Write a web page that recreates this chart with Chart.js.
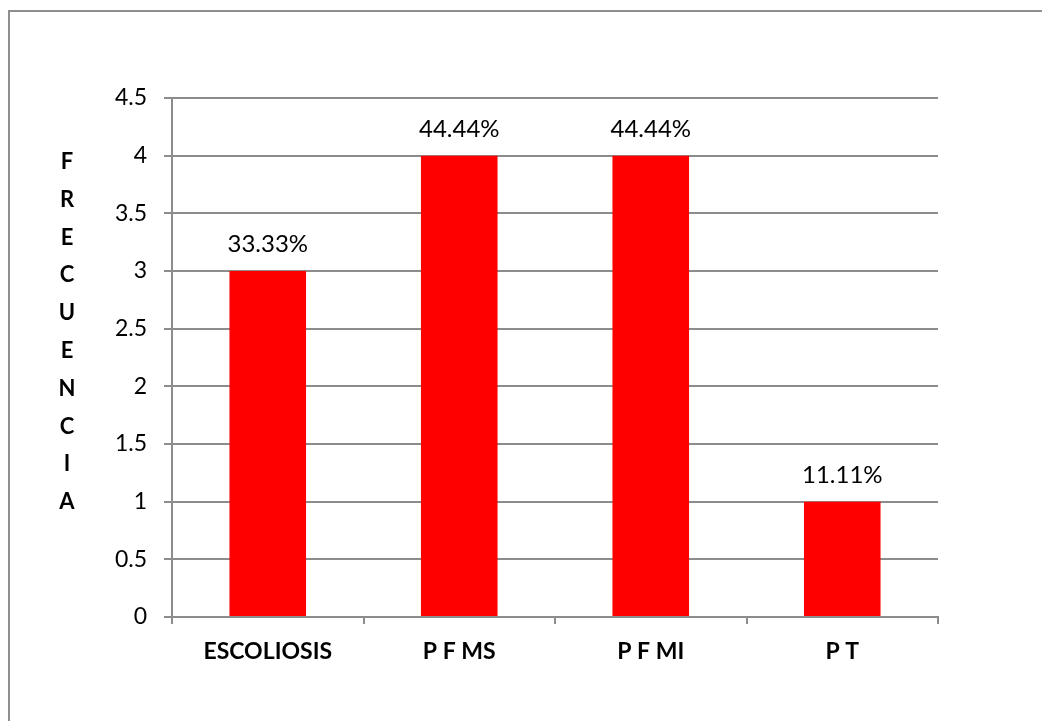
<!DOCTYPE html>
<html>
<head>
<meta charset="utf-8">
<script src="https://cdn.jsdelivr.net/npm/chart.js@4"></script>
<style>
  html, body { margin: 0; padding: 0; background: #fff; }
  #wrap { width: 1042px; height: 721px; }
</style>
</head>
<body>
<div id="wrap"><canvas id="freq-chart"></canvas></div>
<script>
// categories, frequencies and the percentage printed over each bar
const categories = ['ESCOLIOSIS', 'P F MS', 'P F MI', 'P T'];
const frecuencia = [3, 4, 4, 1];
const pctLabels = ['33.33%', '44.44%', '44.44%', '11.11%'];
const yTicks = [0, 0.5, 1, 1.5, 2, 2.5, 3, 3.5, 4, 4.5];
const axisTitle = 'FRECUENCIA';

const gridGray = '#8c8c8c';
const fontFamily = 'Lato, Carlito, Calibri, sans-serif';

// frame lines, the stacked vertical title and the value labels
const extras = {
  id: 'extras',
  afterDraw(chart) {
    const ctx = chart.ctx;
    ctx.save();
    // outer frame (only top and left edges fall inside the canvas)
    ctx.strokeStyle = '#8f8f8f';
    ctx.lineWidth = 2;
    ctx.beginPath();
    ctx.moveTo(9, 721);
    ctx.lineTo(9, 11);
    ctx.lineTo(1042, 11);
    ctx.stroke();

    // vertical title, one letter per row
    ctx.fillStyle = '#000';
    ctx.font = 'bold 22px ' + fontFamily;
    ctx.textAlign = 'center';
    ctx.textBaseline = 'middle';
    const letters = axisTitle.split('');
    letters.forEach((ch, i) => {
      ctx.fillText(ch, 67, 162 + i * 37.8);
    });

    // percentage above each bar
    ctx.font = '24px ' + fontFamily;
    ctx.textBaseline = 'alphabetic';
    const meta = chart.getDatasetMeta(0);
    meta.data.forEach((bar, i) => {
      ctx.fillText(pctLabels[i], bar.x, bar.y - 19);
    });
    ctx.restore();
  }
};

const chartCanvas = document.querySelector('#freq-chart');

new Chart(chartCanvas, {
  type: 'bar',
  data: {
    labels: categories,
    datasets: [{
      data: frecuencia,
      backgroundColor: '#ff0000',
      borderWidth: 0,
      categoryPercentage: 1,
      barPercentage: 0.4
    }]
  },
  options: {
    responsive: true,
    maintainAspectRatio: false,
    animation: false,
    layout: {
      padding: { left: 0, top: 98, right: 104, bottom: 44 }
    },
    plugins: {
      legend: { display: false },
      tooltip: { enabled: false }
    },
    scales: {
      x: {
        grid: {
          offset: true,
          drawOnChartArea: false,
          tickLength: 7,
          color: gridGray,
          lineWidth: 2
        },
        border: { color: gridGray, width: 2 },
        ticks: {
          color: '#000',
          padding: 14,
          font: { family: fontFamily, size: 23, weight: 'bold' }
        },
        afterFit(scale) { scale.height = 60; }
      },
      y: {
        min: 0,
        max: 4.5,
        afterBuildTicks(scale) {
          scale.ticks = yTicks.map(v => ({ value: v }));
        },
        grid: {
          tickLength: 8,
          color: gridGray,
          lineWidth: 2
        },
        border: { color: gridGray, width: 2 },
        ticks: {
          color: '#000',
          padding: 17,
          font: { family: fontFamily, size: 23 },
          callback: value => String(value)
        },
        afterFit(scale) { scale.width = 172; }
      }
    }
  },
  plugins: [extras]
});
</script>
</body>
</html>
